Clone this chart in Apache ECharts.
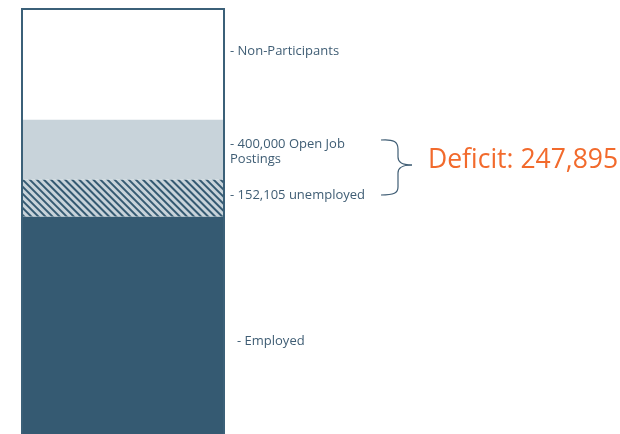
<!DOCTYPE html>
<html>
<head>
<meta charset="utf-8">
<script src="https://cdn.jsdelivr.net/npm/echarts@6/dist/echarts.min.js"></script>
<style>
  html, body { margin: 0; padding: 0; background: #ffffff; }
  #chart { width: 620px; height: 434px; }
</style>
</head>
<body>
<div id="chart"></div>
<script>
// Labor force breakdown, one stacked column (bottom to top)
const categories = ['Labor force'];
const employed = [960000];
const unemployed = [152105];
const openJobs = [400000];
const nonParticipants = [460000];

// open postings not covered by the unemployed
const deficit = openJobs.map((v, i) => v - unemployed[i]);
const total = employed.map((v, i) => v + unemployed[i] + deficit[i] + nonParticipants[i]);

const fmt = v => v.toLocaleString('en-US');

const DARK = '#355a72';
const EDGE = '#3b6078';
const GREY = '#c8d3da';
const TEXT = '#3f5d74';
const ORANGE = '#f26a2c';
const FONT = '"Open Sans", "Noto Sans", sans-serif';

const chart = echarts.init(document.getElementById('chart'), null, { renderer: 'canvas' });

// curly brace joining the two job-market labels
const braceStyle = { stroke: TEXT, lineWidth: 1.2, fill: 'none' };
const curve = (x1, y1, cx1, cy1, cx2, cy2, x2, y2) => ({
  type: 'bezierCurve', silent: true,
  shape: { x1, y1, x2, y2, cpx1: cx1, cpy1: cy1, cpx2: cx2, cpy2: cy2 },
  style: braceStyle
});
const seg = (x1, y1, x2, y2) => ({
  type: 'line', silent: true, shape: { x1, y1, x2, y2 }, style: braceStyle
});

chart.setOption({
  animation: false,
  backgroundColor: '#ffffff',
  // the column runs past the lower edge of the canvas
  grid: {
    left: 21, top: 8, width: 204, height: 441,
    containLabel: false, outerBoundsMode: 'none'
  },
  xAxis: {
    type: 'category', data: categories, show: false
  },
  yAxis: {
    type: 'value', min: 0, max: total[0], show: false
  },
  series: [
    {
      name: 'Employed', type: 'bar', stack: 'lf', data: employed,
      barWidth: 204, barGap: '-100%',
      itemStyle: { color: DARK }
    },
    {
      name: 'Unemployed', type: 'bar', stack: 'lf', data: unemployed,
      barWidth: 204, barGap: '-100%',
      itemStyle: {
        color: GREY,
        decal: {
          symbol: 'rect',
          symbolSize: 1,
          color: DARK,
          dashArrayX: [1, 0],
          dashArrayY: [2, 2.4],
          rotation: Math.PI / 4
        }
      }
    },
    {
      name: 'Deficit', type: 'bar', stack: 'lf', data: deficit,
      barWidth: 204, barGap: '-100%',
      itemStyle: { color: GREY }
    },
    {
      name: 'Non-Participants', type: 'bar', stack: 'lf', data: nonParticipants,
      barWidth: 204, barGap: '-100%',
      itemStyle: { color: '#ffffff' }
    },
    {
      // frame around the whole column
      name: 'Frame', type: 'bar', data: total,
      barWidth: 204, barGap: '-100%', z: 5, silent: true,
      itemStyle: { color: 'rgba(0,0,0,0)', borderColor: EDGE, borderWidth: 2 }
    }
  ],
  graphic: [
    {
      type: 'text', left: 230, top: 45,
      style: { text: '- Non-Participants', font: '13px ' + FONT, fill: TEXT }
    },
    {
      type: 'text', left: 230, top: 137,
      style: { text: '- ' + fmt(openJobs[0]) + ' Open Job\nPostings', font: '13px ' + FONT, fill: TEXT, lineHeight: 15 }
    },
    {
      type: 'text', left: 230, top: 189,
      style: { text: '- ' + fmt(unemployed[0]) + ' unemployed', font: '13px ' + FONT, fill: TEXT }
    },
    {
      type: 'text', left: 237, top: 335,
      style: { text: '- Employed', font: '13px ' + FONT, fill: TEXT }
    },
    curve(381, 140, 394, 139, 398, 142, 398, 149),
    seg(398, 149, 398, 157),
    curve(398, 157, 398, 162, 401, 165, 412, 165),
    curve(412, 165, 401, 165, 398, 168, 398, 173),
    seg(398, 173, 398, 187),
    curve(398, 187, 398, 193, 394, 195, 381, 195),
    {
      type: 'text', left: 428, top: 147,
      style: { text: 'Deficit: ' + fmt(deficit[0]), font: '26.5px ' + FONT, fill: ORANGE }
    }
  ]
});
</script>
</body>
</html>
